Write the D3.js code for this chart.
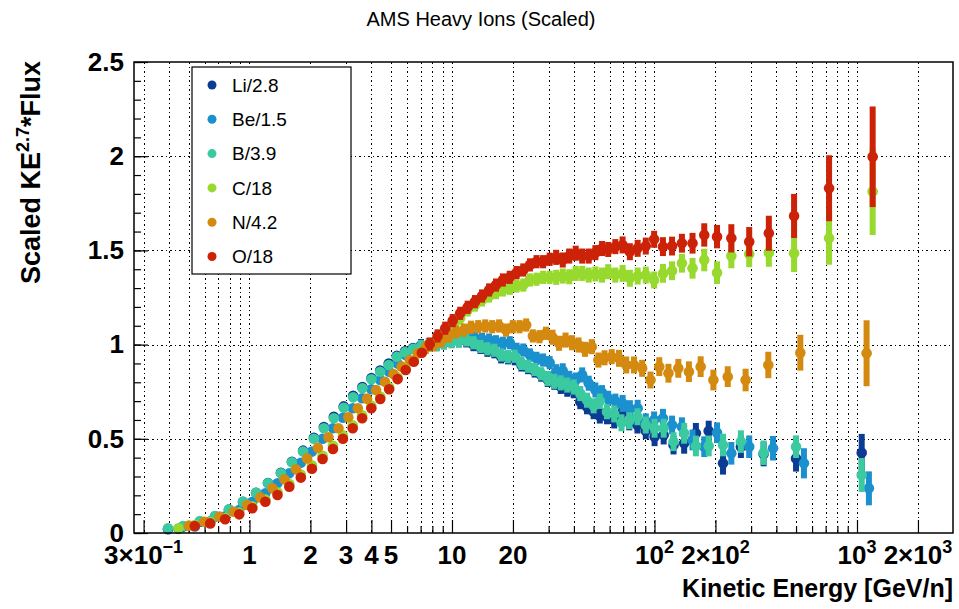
<!DOCTYPE html>
<html>
<head>
<meta charset="utf-8">
<script src="https://cdn.jsdelivr.net/npm/d3@7"></script>
<style>
body { margin: 0; background: #fff; }
text { font-family: "Liberation Sans", Arial, Helvetica, sans-serif; }
</style>
</head>
<body>
<script>
// kinetic energy per nucleon (GeV/n) of each point
const energyLiB = [0.396, 0.470, 0.569, 0.676, 0.792, 0.929, 1.078, 1.234, 1.43, 1.62, 1.84, 2.08, 2.33, 2.61, 2.92, 3.25, 3.61, 4.00, 4.42, 4.87, 5.34, 5.86, 6.42, 7.03, 7.69, 8.39, 9.13, 9.95, 10.83, 11.76, 12.76, 13.83, 14.96, 16.19, 17.50, 18.91, 20.41, 22.02, 23.75, 25.60, 27.57, 29.71, 32.01, 34.46, 37.10, 39.94, 43.01, 46.42, 50.06, 53.70, 58.25, 63.26, 68.72, 75.09, 82.37, 90.56, 100.1, 111.0, 124.2, 140.1, 160.1, 185.2, 218.0, 267.1, 345.8, 500, 1055];
const energyBe = [0.446, 0.537, 0.640, 0.758, 0.890, 1.033, 1.198, 1.375, 1.573, 1.793, 2.034, 2.296, 2.584, 2.894, 3.234, 3.600, 3.997, 4.425, 4.894, 5.388, 5.907, 6.477, 7.098, 7.769, 8.490, 9.261, 10.08, 10.98, 11.95, 12.98, 14.07, 15.25, 16.49, 17.84, 19.29, 20.84, 22.49, 24.26, 26.16, 28.18, 30.36, 32.71, 35.23, 37.93, 40.83, 43.95, 47.33, 51.08, 55.08, 59.08, 64.08, 69.58, 75.58, 82.58, 90.58, 99.58, 110.1, 122.1, 136.6, 154.1, 176.1, 203.6, 239.6, 293.6, 385, 547, 1145];
const energyCO = [0.446, 0.537, 0.640, 0.758, 0.890, 1.033, 1.198, 1.375, 1.573, 1.793, 2.034, 2.296, 2.584, 2.894, 3.234, 3.600, 3.997, 4.425, 4.894, 5.388, 5.907, 6.477, 7.098, 7.769, 8.490, 9.261, 10.08, 10.98, 11.95, 12.98, 14.07, 15.25, 16.49, 17.84, 19.29, 20.84, 22.49, 24.26, 26.16, 28.18, 30.36, 32.71, 35.23, 37.93, 40.83, 43.95, 47.33, 51.08, 55.08, 59.08, 64.08, 69.58, 75.58, 82.58, 90.58, 99.58, 110.1, 122.1, 136.6, 154.1, 176.1, 203.6, 239.6, 293.6, 367, 489, 728, 1195];
const energyO = [0.537, 0.640, 0.758, 0.890, 1.033, 1.198, 1.375, 1.573, 1.793, 2.034, 2.296, 2.584, 2.894, 3.234, 3.600, 3.997, 4.425, 4.894, 5.388, 5.907, 6.477, 7.098, 7.769, 8.490, 9.261, 10.08, 10.98, 11.95, 12.98, 14.07, 15.25, 16.49, 17.84, 19.29, 20.84, 22.49, 24.26, 26.16, 28.18, 30.36, 32.71, 35.23, 37.93, 40.83, 43.95, 47.33, 51.08, 55.08, 59.08, 64.08, 69.58, 75.58, 82.58, 90.58, 99.58, 110.1, 122.1, 136.6, 154.1, 176.1, 203.6, 239.6, 293.6, 367, 489, 728, 1195];
const energyN = [0.502, 0.599, 0.712, 0.836, 0.973, 1.129, 1.298, 1.487, 1.697, 1.927, 2.178, 2.454, 2.750, 3.076, 3.427, 3.807, 4.218, 4.667, 5.140, 5.639, 6.186, 6.781, 7.425, 8.117, 8.857, 9.646, 10.51, 11.44, 12.42, 13.47, 14.60, 15.80, 17.09, 18.48, 19.97, 21.55, 23.25, 25.08, 27.02, 29.11, 31.36, 33.79, 36.38, 39.16, 42.16, 45.40, 49.00, 52.84, 56.68, 61.48, 66.76, 72.52, 79.24, 86.92, 95.56, 105.6, 117.2, 131.1, 147.9, 169.0, 195.4, 230.0, 281.8, 364.8, 525, 1115];

// scaled KE^2.7 * flux
const valLi = [0.020, 0.034, 0.060, 0.088, 0.124, 0.165, 0.213, 0.265, 0.320, 0.378, 0.437, 0.505, 0.562, 0.617, 0.672, 0.728, 0.775, 0.822, 0.862, 0.900, 0.940, 0.965, 0.982, 0.995, 1.000, 1.000, 1.010, 1.020, 1.020, 1.020, 1.000, 0.985, 0.970, 0.962, 0.935, 0.930, 0.925, 0.892, 0.878, 0.860, 0.838, 0.815, 0.800, 0.778, 0.763, 0.755, 0.697, 0.670, 0.644, 0.621, 0.617, 0.600, 0.635, 0.590, 0.573, 0.543, 0.511, 0.520, 0.467, 0.476, 0.529, 0.541, 0.370, 0.458, 0.419, 0.396, 0.426];
const valBe = [0.022, 0.035, 0.062, 0.088, 0.122, 0.165, 0.211, 0.264, 0.317, 0.373, 0.432, 0.500, 0.556, 0.612, 0.662, 0.715, 0.763, 0.812, 0.856, 0.900, 0.945, 0.975, 0.990, 1.000, 1.020, 1.028, 1.030, 1.035, 1.039, 1.035, 1.028, 1.024, 1.015, 1.007, 1.010, 0.975, 0.971, 0.945, 0.927, 0.918, 0.904, 0.856, 0.861, 0.821, 0.812, 0.839, 0.795, 0.759, 0.745, 0.715, 0.700, 0.688, 0.660, 0.662, 0.590, 0.600, 0.609, 0.573, 0.564, 0.494, 0.458, 0.532, 0.423, 0.458, 0.450, 0.370, 0.237];
const valB = [0.025, 0.037, 0.064, 0.090, 0.126, 0.166, 0.214, 0.264, 0.317, 0.375, 0.432, 0.500, 0.556, 0.609, 0.665, 0.720, 0.768, 0.816, 0.856, 0.892, 0.935, 0.960, 0.978, 0.990, 0.998, 1.000, 1.010, 1.015, 1.020, 1.025, 1.010, 0.990, 0.978, 0.970, 0.945, 0.936, 0.938, 0.900, 0.885, 0.868, 0.845, 0.820, 0.805, 0.797, 0.785, 0.775, 0.740, 0.705, 0.675, 0.700, 0.644, 0.632, 0.585, 0.596, 0.617, 0.573, 0.556, 0.556, 0.485, 0.529, 0.462, 0.462, 0.467, 0.485, 0.426, 0.458, 0.308];
const valC = [0.025, 0.042, 0.058, 0.080, 0.108, 0.141, 0.178, 0.216, 0.260, 0.310, 0.360, 0.410, 0.463, 0.518, 0.572, 0.625, 0.676, 0.724, 0.774, 0.826, 0.872, 0.915, 0.958, 0.998, 1.035, 1.068, 1.099, 1.140, 1.184, 1.210, 1.237, 1.258, 1.276, 1.290, 1.299, 1.311, 1.316, 1.343, 1.347, 1.357, 1.357, 1.357, 1.364, 1.360, 1.378, 1.378, 1.369, 1.375, 1.369, 1.387, 1.369, 1.378, 1.352, 1.364, 1.369, 1.343, 1.378, 1.392, 1.432, 1.405, 1.449, 1.382, 1.470, 1.481, 1.488, 1.485, 1.564, 1.812];
const valN = [0.039, 0.060, 0.087, 0.113, 0.149, 0.189, 0.237, 0.285, 0.338, 0.396, 0.452, 0.508, 0.556, 0.614, 0.662, 0.713, 0.759, 0.803, 0.844, 0.883, 0.918, 0.954, 0.985, 1.000, 1.020, 1.045, 1.068, 1.077, 1.092, 1.095, 1.099, 1.095, 1.099, 1.077, 1.095, 1.095, 1.104, 1.046, 1.042, 1.060, 1.039, 1.007, 1.024, 1.010, 0.998, 0.975, 0.989, 0.918, 0.930, 0.936, 0.927, 0.892, 0.892, 0.874, 0.812, 0.883, 0.848, 0.874, 0.856, 0.883, 0.812, 0.830, 0.812, 0.892, 0.957, 0.954];
const valO = [0.037, 0.051, 0.073, 0.099, 0.131, 0.166, 0.202, 0.246, 0.294, 0.341, 0.393, 0.446, 0.500, 0.556, 0.609, 0.662, 0.711, 0.763, 0.817, 0.865, 0.909, 0.957, 1.003, 1.046, 1.087, 1.127, 1.166, 1.198, 1.228, 1.258, 1.290, 1.316, 1.343, 1.357, 1.382, 1.396, 1.423, 1.440, 1.440, 1.453, 1.463, 1.449, 1.470, 1.485, 1.470, 1.470, 1.488, 1.510, 1.505, 1.520, 1.529, 1.493, 1.511, 1.523, 1.559, 1.520, 1.523, 1.538, 1.538, 1.582, 1.573, 1.564, 1.546, 1.591, 1.683, 1.830, 1.997];

// errors (half length of the bars)
const errLi = [0.01, 0.01, 0.01, 0.01, 0.01, 0.01, 0.01, 0.01, 0.01, 0.01, 0.01, 0.01, 0.01, 0.01, 0.01, 0.01, 0.02, 0.02, 0.02, 0.02, 0.02, 0.02, 0.02, 0.035, 0.035, 0.035, 0.035, 0.035, 0.035, 0.035, 0.035, 0.035, 0.035, 0.035, 0.035, 0.035, 0.035, 0.035, 0.035, 0.035, 0.035, 0.04, 0.04, 0.04, 0.04, 0.04, 0.04, 0.04, 0.04, 0.04, 0.04, 0.045, 0.045, 0.045, 0.045, 0.045, 0.05, 0.05, 0.05, 0.055, 0.055, 0.055, 0.06, 0.06, 0.065, 0.07, 0.10];
const errBe = [0.01, 0.01, 0.01, 0.01, 0.01, 0.01, 0.01, 0.01, 0.01, 0.01, 0.01, 0.01, 0.01, 0.01, 0.01, 0.01, 0.02, 0.02, 0.02, 0.02, 0.02, 0.02, 0.02, 0.035, 0.035, 0.035, 0.035, 0.035, 0.035, 0.035, 0.035, 0.035, 0.035, 0.035, 0.035, 0.035, 0.035, 0.035, 0.035, 0.035, 0.035, 0.04, 0.04, 0.04, 0.04, 0.04, 0.04, 0.04, 0.04, 0.04, 0.04, 0.045, 0.045, 0.045, 0.045, 0.045, 0.05, 0.05, 0.05, 0.055, 0.055, 0.055, 0.06, 0.06, 0.065, 0.08, 0.09];
const errB = [0.01, 0.01, 0.01, 0.01, 0.01, 0.01, 0.01, 0.01, 0.01, 0.01, 0.01, 0.01, 0.01, 0.01, 0.01, 0.01, 0.02, 0.02, 0.02, 0.02, 0.02, 0.02, 0.02, 0.035, 0.035, 0.035, 0.035, 0.035, 0.035, 0.035, 0.035, 0.035, 0.035, 0.035, 0.035, 0.035, 0.035, 0.035, 0.035, 0.035, 0.035, 0.04, 0.04, 0.04, 0.04, 0.04, 0.04, 0.04, 0.04, 0.04, 0.04, 0.045, 0.045, 0.045, 0.045, 0.045, 0.05, 0.05, 0.05, 0.055, 0.055, 0.055, 0.06, 0.06, 0.065, 0.06, 0.09];
const errC = [0.01, 0.01, 0.01, 0.01, 0.01, 0.01, 0.01, 0.01, 0.01, 0.01, 0.01, 0.01, 0.01, 0.01, 0.01, 0.01, 0.02, 0.02, 0.02, 0.02, 0.02, 0.02, 0.02, 0.035, 0.035, 0.035, 0.035, 0.035, 0.035, 0.035, 0.035, 0.035, 0.035, 0.035, 0.035, 0.035, 0.035, 0.035, 0.035, 0.035, 0.035, 0.04, 0.04, 0.04, 0.04, 0.04, 0.04, 0.04, 0.04, 0.04, 0.04, 0.045, 0.045, 0.045, 0.045, 0.045, 0.05, 0.05, 0.05, 0.055, 0.06, 0.06, 0.065, 0.07, 0.075, 0.10, 0.14, 0.23];
const errN = [0.01, 0.01, 0.01, 0.01, 0.01, 0.01, 0.01, 0.01, 0.01, 0.01, 0.01, 0.01, 0.01, 0.01, 0.01, 0.02, 0.02, 0.02, 0.02, 0.02, 0.02, 0.02, 0.035, 0.035, 0.035, 0.035, 0.035, 0.035, 0.035, 0.035, 0.035, 0.035, 0.035, 0.035, 0.035, 0.035, 0.035, 0.035, 0.035, 0.035, 0.04, 0.04, 0.04, 0.04, 0.04, 0.04, 0.04, 0.04, 0.04, 0.04, 0.045, 0.045, 0.045, 0.045, 0.045, 0.05, 0.05, 0.05, 0.055, 0.055, 0.055, 0.055, 0.06, 0.07, 0.095, 0.175];
const errO = [0.01, 0.01, 0.01, 0.01, 0.01, 0.01, 0.01, 0.01, 0.01, 0.01, 0.01, 0.01, 0.01, 0.01, 0.01, 0.02, 0.02, 0.02, 0.02, 0.02, 0.02, 0.02, 0.035, 0.035, 0.035, 0.035, 0.035, 0.035, 0.035, 0.035, 0.035, 0.035, 0.035, 0.035, 0.035, 0.035, 0.035, 0.035, 0.035, 0.035, 0.04, 0.04, 0.04, 0.04, 0.04, 0.04, 0.04, 0.04, 0.04, 0.04, 0.045, 0.045, 0.045, 0.045, 0.045, 0.05, 0.05, 0.05, 0.055, 0.062, 0.062, 0.075, 0.078, 0.093, 0.117, 0.175, 0.267];

const names = ["Li/2.8", "Be/1.5", "B/3.9", "C/18", "N/4.2", "O/18"];
const colors = ["#0b3c94", "#1b90cf", "#3bc9a0", "#97d92d", "#d4890f", "#cc2208"];

// axis ticks
const gridX = [0.3, 0.4, 0.5, 0.6, 0.7, 0.8, 0.9, 1, 2, 3, 4, 5, 6, 7, 8, 9, 10, 20, 30, 40, 50, 60, 70, 80, 90, 100, 200, 300, 400, 500, 600, 700, 800, 900, 1000, 2000];
const labelX = [0.3, 1, 2, 3, 4, 5, 10, 20, 100, 200, 1000, 2000];
const labelXText = ["3×10^−1", "1", "2", "3", "4", "5", "10", "20", "10^2", "2×10^2", "10^3", "2×10^3"];
const majorY = [0, 0.5, 1, 1.5, 2, 2.5];
const minorY = d3.range(0, 2.501, 0.1);

const series = [
    {e: energyLiB, v: valLi, err: errLi},
    {e: energyBe, v: valBe, err: errBe},
    {e: energyLiB, v: valB, err: errB},
    {e: energyCO, v: valC, err: errC},
    {e: energyN, v: valN, err: errN},
    {e: energyO, v: valO, err: errO}
].map((s, i) => ({
    name: names[i],
    color: colors[i],
    points: s.e.map((e, j) => ({e: e, v: s.v[j], err: s.err[j]}))
}));

const svg = d3.select("body").append("svg")
    .attr("width", 959)
    .attr("height", 609);

const x = d3.scaleLog().domain([0.269, 2979]).range([134, 953]);
const y = d3.scaleLinear().domain([0, 2.5]).range([533, 62]);
const px = v => Math.round(v) + 0.5;

// grid, dotted black
svg.selectAll(".gx")
    .data(gridX)
    .join("line")
    .attr("class", "gx")
    .attr("x1", d => px(x(d))).attr("x2", d => px(x(d)))
    .attr("y1", 62).attr("y2", 533)
    .attr("stroke", "#000")
    .attr("stroke-width", 1)
    .attr("stroke-dasharray", "1.5,3")
    .attr("shape-rendering", "crispEdges");

svg.selectAll(".gy")
    .data([0.5, 1, 1.5, 2])
    .join("line")
    .attr("class", "gy")
    .attr("x1", 134).attr("x2", 953)
    .attr("y1", d => px(y(d))).attr("y2", d => px(y(d)))
    .attr("stroke", "#000")
    .attr("stroke-width", 1)
    .attr("stroke-dasharray", "1.5,3")
    .attr("shape-rendering", "crispEdges");

// axes (ticks inside the frame, like ROOT)
svg.append("g")
    .attr("transform", "translate(0,533)")
    .call(d3.axisBottom(x).tickValues(gridX.filter(d => !labelX.includes(d))).tickSize(-7).tickFormat(""))
    .call(g => g.select(".domain").remove());

svg.append("g")
    .attr("transform", "translate(0,533)")
    .call(d3.axisBottom(x).tickValues(labelX).tickSize(-13).tickFormat(""))
    .call(g => g.select(".domain").remove());

svg.append("g")
    .attr("transform", "translate(134,0)")
    .call(d3.axisLeft(y).tickValues(minorY).tickSize(-7).tickFormat(""))
    .call(g => g.select(".domain").remove());

const yAxis = svg.append("g")
    .attr("transform", "translate(134,0)")
    .call(d3.axisLeft(y).tickValues(majorY).tickSize(-14).tickPadding(10).tickFormat(d => String(d)))
    .call(g => g.select(".domain").remove());
yAxis.selectAll("text")
    .attr("font-size", 26)
    .attr("font-weight", "bold")
    .attr("fill", "#000")
    .style("font-family", "'Liberation Sans', Arial, sans-serif");
svg.selectAll(".tick line").attr("stroke", "#000").attr("stroke-width", 1.2);

// x tick labels with exponents
const xl = svg.selectAll(".xlab")
    .data(labelX)
    .join("text")
    .attr("class", "xlab")
    .attr("x", d => x(d))
    .attr("y", 564)
    .attr("text-anchor", "middle")
    .attr("font-size", 26)
    .attr("font-weight", "bold");
xl.each(function(d, i) {
    const parts = labelXText[i].split("^");
    const t = d3.select(this);
    t.append("tspan").text(parts[0]);
    if (parts.length > 1) {
        t.append("tspan").attr("dy", -11).attr("font-size", 18).text(parts[1]);
    }
});

// data: error bars then markers for each series
series.forEach(s => {
    const g = svg.append("g");
    g.selectAll("rect")
        .data(s.points)
        .join("rect")
        .attr("x", d => x(d.e) - 3)
        .attr("width", 6)
        .attr("y", d => y(d.v + d.err))
        .attr("height", d => y(d.v - d.err) - y(d.v + d.err))
        .attr("fill", s.color);
    g.selectAll("circle")
        .data(s.points)
        .join("circle")
        .attr("cx", d => x(d.e))
        .attr("cy", d => y(d.v))
        .attr("r", 5.3)
        .attr("fill", s.color);
});

// frame
svg.append("rect")
    .attr("x", 134).attr("y", 62)
    .attr("width", 819).attr("height", 471)
    .attr("fill", "none")
    .attr("stroke", "#000")
    .attr("stroke-width", 1.5);

// legend
const legend = svg.append("g");
legend.append("rect")
    .attr("x", 192).attr("y", 67)
    .attr("width", 159).attr("height", 207)
    .attr("fill", "#fff")
    .attr("stroke", "#000")
    .attr("stroke-width", 1.2);
const rows = legend.selectAll(".leg")
    .data(series)
    .join("g")
    .attr("class", "leg")
    .attr("transform", (d, i) => `translate(212,${85 + i * 34.3})`);
rows.append("circle").attr("r", 4.5).attr("fill", d => d.color);
rows.append("text")
    .attr("x", 20)
    .attr("dy", "0.36em")
    .attr("font-size", 19)
    .text(d => d.name);

// titles
svg.append("text")
    .attr("x", 481).attr("y", 26)
    .attr("text-anchor", "middle")
    .attr("font-size", 20)
    .text("AMS Heavy Ions (Scaled)");

svg.append("text")
    .attr("x", 953).attr("y", 597)
    .attr("text-anchor", "end")
    .attr("font-size", 25)
    .attr("font-weight", "bold")
    .text("Kinetic Energy [GeV/n]");

const yt = svg.append("text")
    .attr("transform", "translate(40,61) rotate(-90)")
    .attr("text-anchor", "end")
    .attr("font-size", 27)
    .attr("font-weight", "bold");
yt.append("tspan").text("Scaled KE");
yt.append("tspan").attr("dy", -11).attr("font-size", 18).text("2.7");
yt.append("tspan").attr("dy", 11).text("*Flux");
</script>
</body>
</html>
